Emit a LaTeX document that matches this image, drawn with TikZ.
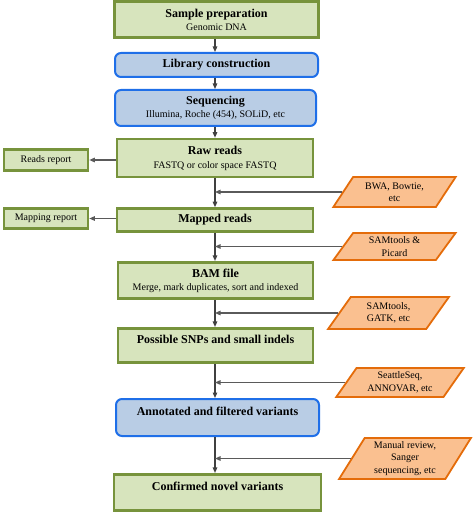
\documentclass[tikz,border=0pt]{standalone}
\usepackage{fontspec}
\setmainfont{Liberation Serif}
\usetikzlibrary{shapes.geometric,arrows.meta}
\definecolor{gfill}{HTML}{D7E4BD}
\definecolor{gdraw}{HTML}{77933C}
\definecolor{bfill}{HTML}{B9CDE5}
\definecolor{bdraw}{HTML}{1F6FE8}
\definecolor{ofill}{HTML}{FAC090}
\definecolor{odraw}{HTML}{E46C0A}
\definecolor{lcol}{HTML}{404040}
\definecolor{tcol}{HTML}{5A5A5A}
\newcommand\mytitle[1]{{\fontsize{12}{13}\selectfont\bfseries #1}}
\begin{document}
\begin{tikzpicture}[x=1pt,y=-1pt,
 sz/.style 2 args={minimum width=#1pt,minimum height=#2pt},
 gbox/.style={draw=gdraw,fill=gfill,line width=2.6pt,inner sep=0pt,align=center,font=\fontsize{10}{13}\selectfont},
 bbox/.style={draw=bdraw,fill=bfill,line width=2pt,rounded corners=6pt,inner sep=0pt,align=center,font=\fontsize{10}{13}\selectfont},
 tool/.style={trapezium,trapezium stretches=true,draw=odraw,fill=ofill,line width=1.8pt,inner sep=0pt,align=center,font=\fontsize{10}{12.5}\selectfont,trapezium left angle=#1,trapezium right angle=180-#1},
 arr/.style={draw=lcol,line width=1.2pt,-{Triangle[length=5.5pt,width=4.5pt]}},
 tarr/.style={arr,draw=tcol}
]
\useasboundingbox (0,0) rectangle (474,513);
\coordinate (m) at (215,0);

\node[gbox,sz={204}{36.5}] (sample) at (216.5,19.5) {\mytitle{Sample preparation}\\Genomic DNA};
\node[bbox,sz={203}{24}] (library) at (216.5,65) {\mytitle{Library construction}};
\node[bbox,sz={201}{36}] (seq) at (215.5,108) {\mytitle{Sequencing}\\Illumina, Roche (454), SOLiD, etc};
\node[gbox,sz={196}{38},font=\fontsize{10}{14}\selectfont] (raw) at (215,158) {\mytitle{Raw reads}\\FASTQ or color space FASTQ};
\node[gbox,sz={84}{21}] (reads) at (46,160) {Reads report};
\node[gbox,sz={196}{23}] (mapped) at (215,220) {\mytitle{Mapped reads}};
\node[gbox,sz={84}{20.5}] (mapping) at (46,218.5) {Mapping report};
\node[gbox,sz={195}{36.5}] (bam) at (215.5,280.5) {\mytitle{BAM file}\\Merge, mark duplicates, sort and indexed};
\node[gbox,sz={195}{34.5}] (snp) at (215.5,345.5) {\mytitle{Possible SNPs and small indels}\\\rule{0pt}{0pt}};
\node[bbox,sz={203}{37}] (annot) at (217.5,417.5) {\mytitle{Annotated and filtered variants}\\\rule{0pt}{0pt}};
\node[gbox,sz={207}{36.5}] (conf) at (217.5,492.5) {\mytitle{Confirmed novel variants}\\\rule{0pt}{0pt}};

\node[tool=54,sz={123}{30}] (bwa) at (394.5,192) {BWA, Bowtie,\\etc};
\node[tool=58,sz={123}{27}] (pic) at (394.5,246.5) {SAMtools \&\\Picard};
\node[tool=58,sz={121}{32}] (gatk) at (388.5,313) {SAMtools,\\GATK, etc};
\node[tool=54,sz={128}{29}] (seattle) at (400,382.5) {SeattleSeq,\\ANNOVAR, etc};
\node[tool=60,sz={132}{41}] (manual) at (405,458.5) {Manual review,\\Sanger\\sequencing, etc};

\draw[arr] (sample.south -| m) -- (library.north -| m);
\draw[arr] (library.south -| m) -- (seq.north -| m);
\draw[arr] (seq.south -| m) -- (raw.north -| m);
\draw[arr] (raw.south -| m) -- (mapped.north -| m);
\draw[arr] (mapped.south -| m) -- (bam.north -| m);
\draw[arr] (bam.south -| m) -- (snp.north -| m);
\draw[arr] (snp.south -| m) -- (annot.north -| m);
\draw[arr] (annot.south -| m) -- (conf.north -| m);

\draw[tarr] (raw.west |- reads.east) -- (reads.east);
\draw[tarr] (mapped.west |- mapping.east) -- (mapping.east);

\draw[tarr] (bwa.west) -- (bwa.west -| m);
\draw[tarr] (pic.west) -- (pic.west -| m);
\draw[tarr] (gatk.west) -- (gatk.west -| m);
\draw[tarr] (seattle.west) -- (seattle.west -| m);
\draw[tarr] (manual.west) -- (manual.west -| m);
\end{tikzpicture}
\end{document}
